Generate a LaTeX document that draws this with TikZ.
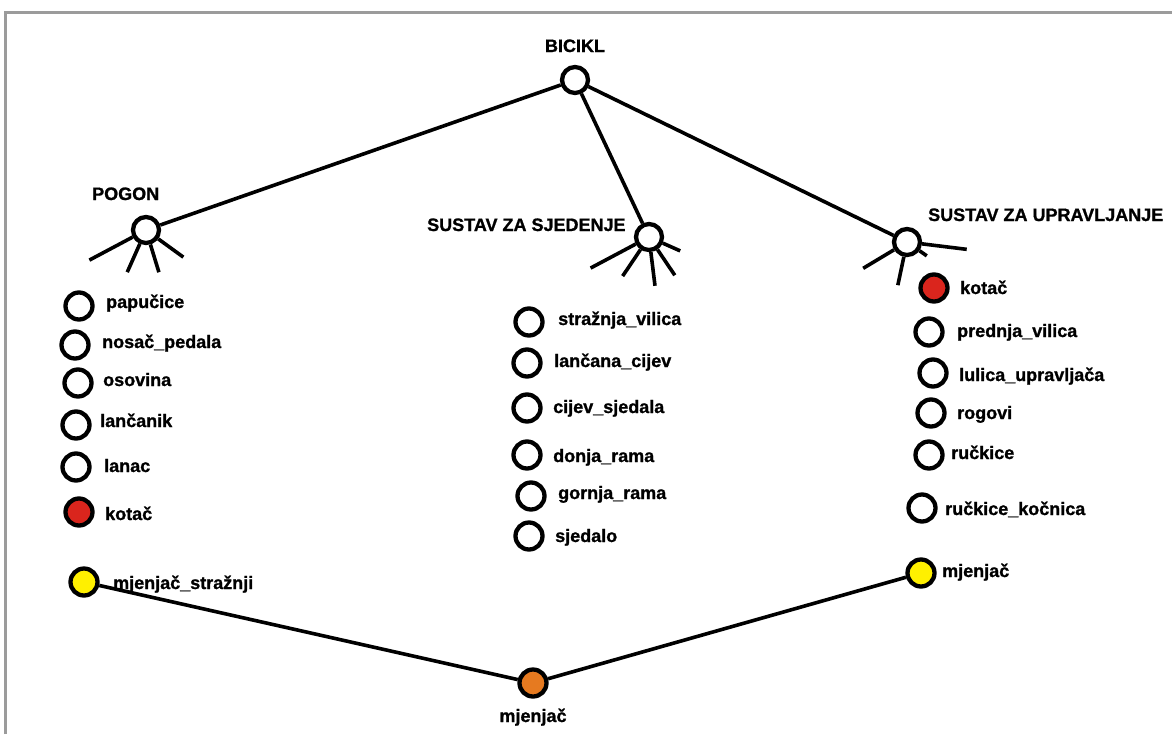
\documentclass[tikz,border=0pt]{standalone}
\usepackage{fontspec}
\setmainfont{Liberation Sans}
\newfontfamily\lblfont{Liberation Sans}[BoldFeatures={FakeBold=1.1}]
\usepackage{xcolor}

\begin{document}
\begin{tikzpicture}[x=1pt, y=1pt,
    part/.style={circle, draw, line width=4.3pt, minimum size=27pt, inner sep=0pt, fill=white},
    hub/.style={part, minimum size=26pt},
    lbl/.style={anchor=base west, inner sep=0pt, font=\fontsize{18}{20}\lblfont\bfseries},
    link/.style={line width=3.6pt},
    spoke/.style={line width=3.6pt}]
    % Define colors
    \definecolor{framecolor}{RGB}{155, 155, 155}
    \definecolor{wheelcolor}{RGB}{218, 37, 29}
    \definecolor{shiftcolor}{RGB}{255, 240, 0}
    \definecolor{maincolor}{RGB}{230, 122, 32}

    \useasboundingbox (0,0) rectangle (1172,-734);
    \draw[framecolor, line width=3pt] (5.5,-734) -- (5.5,-12.5) -- (1172,-12.5);

    % Top node and groups
    \node[hub] (bic) at (575,-80) {};
    \node[lbl, anchor=base] (bicT) at (575,-52) {BICIKL};
    \node[hub] (pog) at (146,-230) {};
    \node[lbl] (pogT) at (92,-200) {POGON};
    \node[hub] (sje) at (649,-237) {};
    \node[lbl] (sjeT) at (427,-231) {SUSTAV ZA SJEDENJE};
    \node[hub] (upr) at (907,-242) {};
    \node[lbl] (uprT) at (928,-221) {SUSTAV ZA UPRAVLJANJE};

    % Links from the top
    \draw[link] (bic) -- (pog);
    \draw[link] (bic) -- (sje);
    \draw[link] (bic) -- (upr);

    % Spokes
    \foreach \a/\l in {208/49, 246/31, 287/29, 324/31}
        \draw[spoke] (pog.\a) -- ++(\a:\l);
    \foreach \a/\l in {208/51, 236/32, 277/34, 304/31, 336/19}
        \draw[spoke] (sje.\a) -- ++(\a:\l);
    \foreach \a/\l in {211/36, 258/29, 325/9, 353/45}
        \draw[spoke] (upr.\a) -- ++(\a:\l);

    % Parts of POGON
    \foreach \n/\cx/\cy/\tx/\ty/\t in {
        1/79/306/106/308/papučice,
        2/75/345/102/348/nosač\_pedala,
        3/78/383/103/386/osovina,
        4/76/425/100/427/lančanik,
        5/76/467/104/472/lanac}
    {
        \node[part] (pogP\n) at (\cx,-\cy) {};
        \node[lbl] (pogL\n) at (\tx,-\ty) {\t};
    }
    \node[part, fill=wheelcolor] (pogP6) at (79,-512) {};
    \node[lbl] (pogL6) at (105,-520) {kotač};

    % Parts of SUSTAV ZA SJEDENJE
    \foreach \n/\cx/\cy/\tx/\ty/\t in {
        1/529/322/558/325/stražnja\_vilica,
        2/527/363/554/367/lančana\_cijev,
        3/527/408/553/413/cijev\_sjedala,
        4/527/455/553/462/donja\_rama,
        5/531/496/558/499/gornja\_rama,
        6/529/536/555/542/sjedalo}
    {
        \node[part] (sjeP\n) at (\cx,-\cy) {};
        \node[lbl] (sjeL\n) at (\tx,-\ty) {\t};
    }

    % Parts of SUSTAV ZA UPRAVLJANJE
    \node[part, fill=wheelcolor] (uprP1) at (934,-288) {};
    \node[lbl] (uprL1) at (960,-294) {kotač};
    \foreach \n/\cx/\cy/\tx/\ty/\t in {
        2/929/332/957/337/prednja\_vilica,
        3/933/373/959/381/lulica\_upravljača,
        4/931/413/957/419/rogovi,
        5/929/455/951/459/ručkice,
        6/922/508/945/515/ručkice\_kočnica}
    {
        \node[part] (uprP\n) at (\cx,-\cy) {};
        \node[lbl] (uprL\n) at (\tx,-\ty) {\t};
    }

    % Shifters
    \node[part, fill=shiftcolor] (mjeS) at (84,-582) {};
    \node[lbl] (mjeST) at (113,-589) {mjenjač\_stražnji};
    \node[part, fill=shiftcolor] (mjeP) at (921,-573) {};
    \node[lbl] (mjePT) at (942,-577) {mjenjač};
    \node[part, fill=maincolor] (mje) at (533,-683) {};
    \node[lbl, anchor=base] (mjeT) at (533,-722) {mjenjač};
    \draw[link] (mjeS) -- (mje);
    \draw[link] (mje) -- (mjeP);

\end{tikzpicture}
\end{document}
